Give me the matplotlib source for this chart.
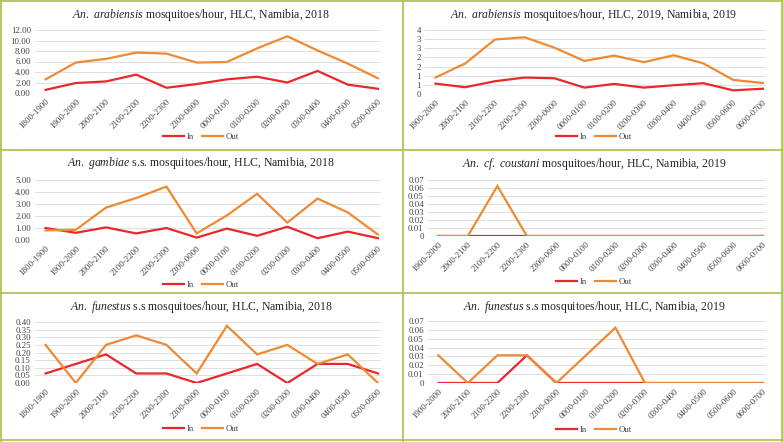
import matplotlib
matplotlib.use("Agg")
import matplotlib.pyplot as plt
from matplotlib.lines import Line2D

plt.rcParams['font.family'] = ['Liberation Serif', 'DejaVu Serif']
plt.rcParams['mathtext.fontset'] = 'custom'
plt.rcParams['mathtext.it'] = 'Liberation Serif:italic'
plt.rcParams['mathtext.rm'] = 'Liberation Serif'

W, H = 783, 442

hours_2018 = ["1800-1900", "1900-2000", "2000-2100", "2100-2200", "2200-2300", "2300-0000",
              "0000-0100", "0100-0200", "0200-0300", "0300-0400", "0400-0500", "0500-0600"]
hours_2019 = ["1900-2000", "2000-2100", "2100-2200", "2200-2300", "2300-0000", "0000-0100",
              "0100-0200", "0200-0300", "0300-0400", "0400-0500", "0500-0600", "0600-0700"]

arab18_in = [0.6, 1.9, 2.2, 3.5, 1.0, 1.7, 2.6, 3.1, 2.0, 4.2, 1.6, 0.8]
arab18_out = [2.6, 5.8, 6.5, 7.7, 7.5, 5.8, 5.9, 8.5, 10.8, 8.1, 5.6, 2.8]

arab19_in = [0.57, 0.37, 0.70, 0.90, 0.86, 0.35, 0.55, 0.35, 0.48, 0.59, 0.20, 0.29]
arab19_out = [0.90, 1.67, 2.98, 3.10, 2.53, 1.81, 2.10, 1.74, 2.12, 1.67, 0.77, 0.60]

gamb18_in = [1.0, 0.6, 1.05, 0.55, 1.0, 0.2, 0.95, 0.35, 1.1, 0.15, 0.7, 0.15]
gamb18_out = [0.8, 0.85, 2.7, 3.5, 4.45, 0.55, 2.05, 3.85, 1.45, 3.45, 2.3, 0.45]

cous19_in = [0, 0, 0, 0, 0, 0, 0, 0, 0, 0, 0, 0]
cous19_out = [0, 0, 0.0625, 0, 0, 0, 0, 0, 0, 0, 0, 0]

fun18_in = [0.0625, 0.125, 0.1875, 0.0625, 0.0625, 0, 0.0625, 0.125, 0, 0.125, 0.125, 0.0625]
fun18_out = [0.25, 0, 0.25, 0.3125, 0.25, 0.0625, 0.375, 0.1875, 0.25, 0.125, 0.1875, 0]

fun19_in = [0, 0, 0, 0.03125, 0, 0, 0, 0, 0, 0, 0, 0]
fun19_out = [0.03125, 0, 0.03125, 0.03125, 0, 0.03125, 0.0625, 0, 0, 0, 0, 0]

ticks_12 = [0, 2, 4, 6, 8, 10, 12]
ticks_half = [0, 0.5, 1.0, 1.5, 2.0, 2.5, 3.0, 3.5]
labels_half = ["0", "1", "1", "2", "2", "3", "3", "4"]
ticks_5 = [0, 1, 2, 3, 4, 5]
ticks_007 = [0, 0.01, 0.02, 0.03, 0.04, 0.05, 0.06, 0.07]
labels_007 = ["0", "0.01", "0.02", "0.03", "0.04", "0.05", "0.06", "0.07"]
ticks_040 = [0, 0.05, 0.10, 0.15, 0.20, 0.25, 0.30, 0.35, 0.40]

RED = '#e8282b'
ORANGE = '#ee8a33'
GRID = '#d9d9d9'
BORDER = '#abc45a'
TXT = '#404040'

panels = [
    # title, cats, in, out, ticks, labels, px rect (left, right, top, bottom), title y, legend y, centre x
    (r"$\mathit{An.\ arabiensis}$ mosquitoes/hour, HLC, Namibia, 2018",
     hours_2018, arab18_in, arab18_out, ticks_12, ["%.2f" % t for t in ticks_12],
     (35, 381, 30, 93), 15, 137, 201),
    (r"$\mathit{An.\ arabiensis}$ mosquitoes/hour, HLC, 2019, Namibia, 2019",
     hours_2019, arab19_in, arab19_out, ticks_half, labels_half,
     (425, 766, 30, 94), 15, 137, 594),
    (r"$\mathit{An.\ gambiae}$ s.s. mosquitoes/hour, HLC, Namibia, 2018",
     hours_2018, gamb18_in, gamb18_out, ticks_5, ["%.2f" % t for t in ticks_5],
     (35, 381, 180, 240), 163, 285, 201),
    (r"$\mathit{An.\ cf.\ coustani}$ mosquitoes/hour, HLC, Namibia, 2019",
     hours_2019, cous19_in, cous19_out, ticks_007, labels_007,
     (428, 766, 180, 236), 164, 282, 594),
    (r"$\mathit{An.\ funestus}$ s.s mosquitoes/hour, HLC, Namibia, 2018",
     hours_2018, fun18_in, fun18_out, ticks_040, ["%.2f" % t for t in ticks_040],
     (35, 381, 322, 383), 307, 429, 201),
    (r"$\mathit{An.\ funestus}$ s.s mosquitoes/hour, HLC, Namibia, 2019",
     hours_2019, fun19_in, fun19_out, ticks_007, labels_007,
     (428, 766, 321, 383), 307, 430, 594),
]

fig = plt.figure(figsize=(W / 100, H / 100), dpi=100)

for title, cats, vin, vout, ticks, labels, rect, ty, ly, cx in panels:
    left, right, top, bottom = rect
    ax = fig.add_axes([left / W, 1 - bottom / H, (right - left) / W, (bottom - top) / H])
    x = list(range(len(cats)))
    ax.plot(x, vin, color=RED, lw=1.6, solid_joinstyle='miter')
    ax.plot(x, vout, color=ORANGE, lw=1.6, solid_joinstyle='miter')
    ax.set_xlim(-0.35, len(cats) - 0.9)
    ax.set_ylim(0, ticks[-1])
    ax.set_yticks(ticks)
    ax.set_yticklabels(labels)
    ax.set_xticks(x)
    ax.set_xticklabels(cats, rotation=45, ha='right', rotation_mode='anchor')
    ax.tick_params(length=0, labelsize=6.3, colors=TXT, pad=3)
    ax.yaxis.grid(True, color=GRID, lw=0.6)
    ax.set_axisbelow(True)
    for s in ax.spines.values():
        s.set_visible(False)

    fig.text(cx / W, 1 - ty / H, title, ha='center', va='center', fontsize=8.5, color='#262626')
    handles = [Line2D([], [], color=RED, lw=1.6), Line2D([], [], color=ORANGE, lw=1.6)]
    fig.legend(handles, ["In", "Out"], loc='center', bbox_to_anchor=(cx / W, 1 - ly / H),
               ncol=2, frameon=False, fontsize=6.3, handlelength=2.4, columnspacing=1.0,
               handletextpad=0.3, labelcolor=TXT)

# green panel borders
for xs, ys in [((1, 1), (0, H)), ((782, 782), (0, H)), ((0, W), (1, 1)), ((0, W), (440, 440)),
               ((403, 403), (0, H)), ((0, W), (150, 150)), ((0, W), (293, 293))]:
    fig.add_artist(Line2D([v / W for v in xs], [1 - v / H for v in ys], color=BORDER, lw=1.3))

fig.savefig("out.png", dpi=100)
